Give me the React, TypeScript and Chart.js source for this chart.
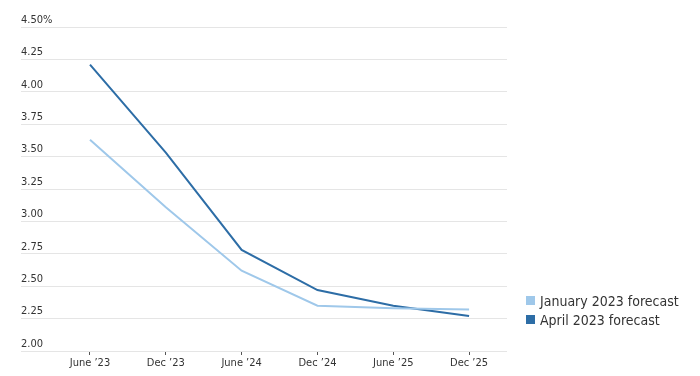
import React, { useEffect, useRef } from "react";
import { Chart, registerables } from "chart.js";

Chart.register(...registerables);

const categories = ["June ’23", "Dec ’23", "June ’24", "Dec ’24", "June ’25", "Dec ’25"];
const januaryForecast = [3.63, 3.11, 2.62, 2.35, 2.33, 2.32];
const aprilForecast = [4.21, 3.53, 2.78, 2.47, 2.35, 2.27];
const seriesNames = ["January 2023 forecast", "April 2023 forecast"];
const seriesColors = ["#9fc8ea", "#2d6da6"];
const yTicks = [2.0, 2.25, 2.5, 2.75, 3.0, 3.25, 3.5, 3.75, 4.0, 4.25, 4.5];

const FONT = "'DejaVu Sans Condensed', 'Liberation Sans Narrow', sans-serif";

export default function App() {
  const ref = useRef<HTMLCanvasElement | null>(null);

  useEffect(() => {
    if (!ref.current) return;
    const toPts = (arr: number[]) => arr.map((v, i) => ({ x: i, y: v }));
    const chart = new Chart(ref.current, {
      type: "line",
      data: {
        datasets: [
          {
            label: seriesNames[0],
            data: toPts(januaryForecast),
            borderColor: seriesColors[0],
            backgroundColor: seriesColors[0],
            borderWidth: 2,
            pointRadius: 0,
            tension: 0,
          },
          {
            label: seriesNames[1],
            data: toPts(aprilForecast),
            borderColor: seriesColors[1],
            backgroundColor: seriesColors[1],
            borderWidth: 2,
            pointRadius: 0,
            tension: 0,
          },
        ],
      },
      options: {
        responsive: true,
        maintainAspectRatio: false,
        animation: false,
        layout: { padding: { left: 13, right: 185, top: 19, bottom: 0 } },
        plugins: {
          legend: { display: false },
          tooltip: { enabled: false },
        },
        scales: {
          x: {
            type: "linear",
            min: -0.91,
            max: 5.5,
            afterBuildTicks: (axis: any) => {
              axis.ticks = categories.map((_, i) => ({ value: i }));
            },
            afterFit: (axis: any) => {
              axis.height = 25;
            },
            grid: {
              display: true,
              drawOnChartArea: false,
              drawTicks: true,
              tickLength: 4,
              color: "#555",
            },
            border: { display: false },
            ticks: {
              autoSkip: false,
              maxRotation: 0,
              padding: 2,
              color: "#333",
              font: { family: FONT, size: 11 },
              callback: (v: any) => categories[v] ?? "",
            },
          },
          y: {
            min: 2,
            max: 4.5,
            afterBuildTicks: (axis: any) => {
              axis.ticks = yTicks.map((v) => ({ value: v }));
            },
            grid: { color: "#e5e5e5", drawTicks: false, lineWidth: 1 },
            border: { display: false },
            ticks: {
              mirror: true,
              padding: 0,
              labelOffset: -7,
              color: "#333",
              font: { family: FONT, size: 11 },
              callback: (v: any) => (v === 4.5 ? "4.50%" : Number(v).toFixed(2)),
            },
          },
        },
      },
    });
    return () => chart.destroy();
  }, []);

  return (
    <div style={{ position: "relative", width: 684, height: 368, marginBottom: -8 }}>
      <canvas ref={ref} />
      <div
        style={{
          position: "absolute",
          left: 518,
          top: 283,
          fontFamily: FONT,
          fontSize: 14,
          color: "#333",
        }}
      >
        {seriesNames.map((name, i) => (
          <div key={name} style={{ display: "flex", alignItems: "center", height: 19.3 }}>
            <span
              style={{
                display: "inline-block",
                width: 9,
                height: 9,
                background: seriesColors[i],
                marginRight: 5,
              }}
            />
            <span>{name}</span>
          </div>
        ))}
      </div>
    </div>
  );
}
